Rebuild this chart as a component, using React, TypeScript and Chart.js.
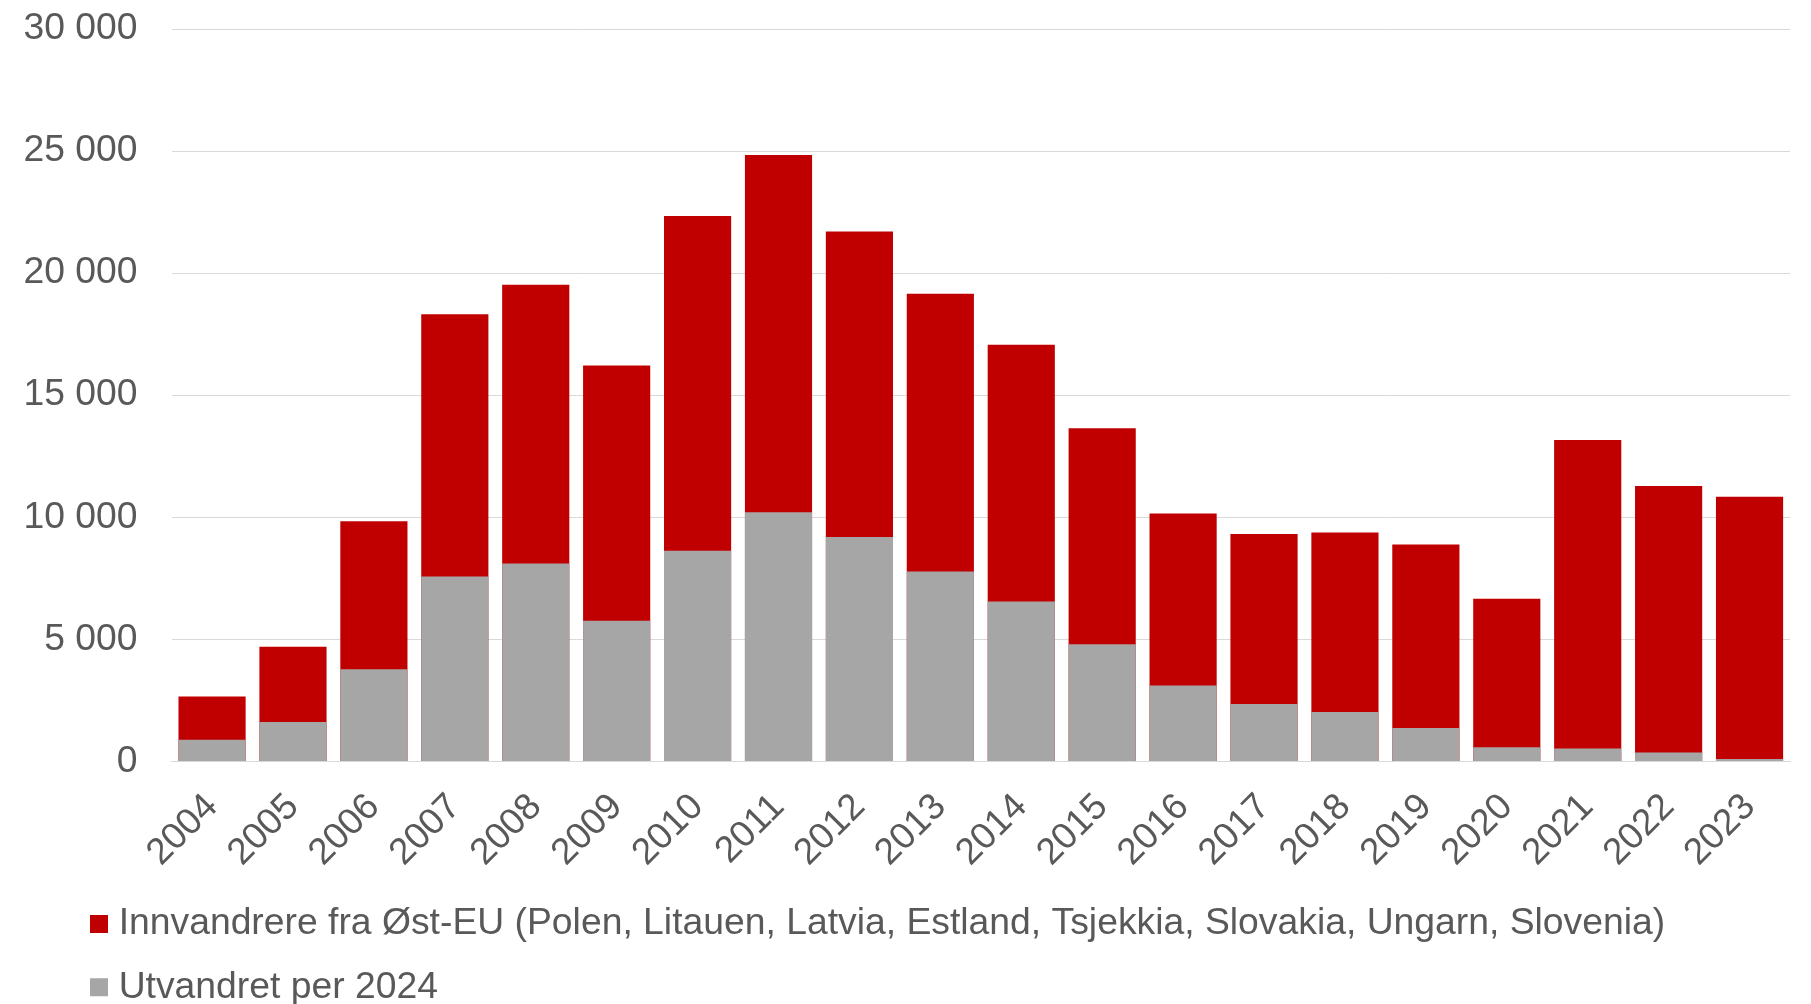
import React, { useEffect, useRef } from "react";
import { Chart, registerables } from "chart.js";

Chart.register(...registerables);

const years = ["2004","2005","2006","2007","2008","2009","2010","2011","2012","2013","2014","2015","2016","2017","2018","2019","2020","2021","2022","2023"];
const innvandrere = [2660, 4700, 9840, 18320, 19520, 16220, 22340, 24840, 21710, 19160, 17070, 13650, 10150, 9310, 9380, 8880, 6660, 13170, 11280, 10840];
const utvandret = [890, 1610, 3770, 7570, 8110, 5760, 8630, 10210, 9190, 7780, 6550, 4800, 3110, 2350, 2020, 1370, 580, 530, 360, 100];
const seriesNames = ["Innvandrere fra Øst-EU (Polen, Litauen, Latvia, Estland, Tsjekkia, Slovakia, Ungarn, Slovenia)", "Utvandret per 2024"];
const yTicks = [0, 5000, 10000, 15000, 20000, 25000, 30000];

const FONT = "'Liberation Sans', Arial, sans-serif";
const TEXT = "#595959";

const legendShift = {
  id: "legendShift",
  afterLayout(chart: any) {
    if (chart.legend) {
      const w = chart.legend.right - chart.legend.left;
      chart.legend.left = 72;
      chart.legend.right = 72 + w;
    }
  },
};

export default function App() {
  const ref = useRef<HTMLCanvasElement | null>(null);
  useEffect(() => {
    const ctx = ref.current!;
    const chart = new Chart(ctx, {
      type: "bar",
      data: {
        labels: years,
        datasets: [
          { label: seriesNames[0], data: innvandrere, backgroundColor: "#C00000", order: 2, barPercentage: 0.83, categoryPercentage: 1 },
          { label: seriesNames[1], data: utvandret, backgroundColor: "#A6A6A6", order: 1, barPercentage: 0.83, categoryPercentage: 1 },
        ],
      },
      plugins: [legendShift],
      options: {
        animation: false,
        responsive: false,
        layout: { padding: { top: 29, left: 0, right: 21, bottom: 0 } },
        plugins: {
          tooltip: { enabled: false },
          legend: {
            position: "bottom",
            align: "start",
            reverse: true,
            labels: {
              usePointStyle: true,
              pointStyle: "rect",
              boxWidth: 2,
              boxHeight: 18,
              padding: 26,
              color: TEXT,
              font: { family: FONT, size: 37.3 },
            },
          },
        },
        scales: {
          x: {
            stacked: true,
            grid: { display: false, drawTicks: false },
            border: { display: true, color: "#D9D9D9", width: 1 },
            ticks: {
              color: TEXT,
              font: { family: FONT, size: 37 },
              maxRotation: 45,
              minRotation: 45,
              padding: 24,
              autoSkip: false,
            },
            afterFit: (scale: any) => { scale.height = 118; },
          },
          y: {
            stacked: false,
            min: 0,
            max: 30000,
            afterBuildTicks: (scale: any) => { scale.ticks = yTicks.map((v) => ({ value: v })); },
            grid: { color: "#D9D9D9", lineWidth: 1, drawTicks: true, tickLength: 34, tickColor: "rgba(0,0,0,0)" },
            border: { display: false },
            ticks: {
              color: TEXT,
              font: { family: FONT, size: 37.3 },
              padding: 0,
              callback: (v: any) => String(v).replace(/\B(?=(\d{3})+(?!\d))/g, " "),
            },
            afterFit: (scale: any) => { scale.width = 171.6; },
          },
        },
      },
    });
    return () => chart.destroy();
  }, []);
  return (
    <div style={{ position: "fixed", left: 0, top: 0, width: 1811, height: 1004, overflow: "hidden", background: "#fff" }}>
      <canvas ref={ref} width={1811} height={1016} style={{ display: "block" }} />
    </div>
  );
}
